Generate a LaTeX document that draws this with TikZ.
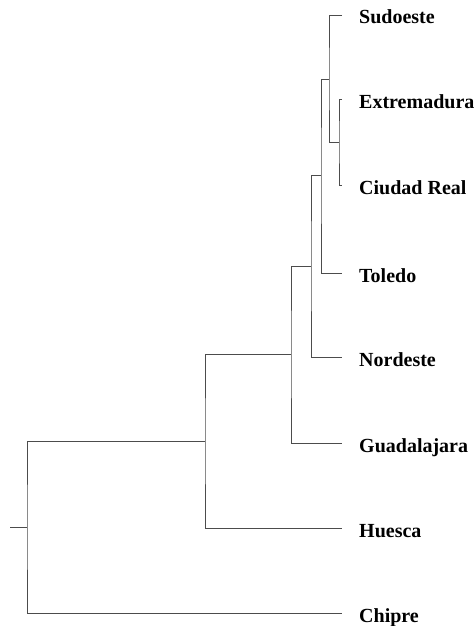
\documentclass[tikz,border=0pt]{standalone}
\usepackage{fontspec}
\setmainfont{Liberation Serif}
\usetikzlibrary{positioning}

\begin{document}
\begin{tikzpicture}[x=1pt, y=-1pt,
  hoja/.style={anchor=base west, inner sep=0pt, font=\bfseries\fontsize{20}{24}\selectfont},
  rama/.style={draw=black!70, line width=0.8pt}]
\useasboundingbox (0,0) rectangle (476,626);
% extremos de las hojas
\coordinate (su) at (342,15);
\coordinate (ex) at (342,99);
\coordinate (cr) at (342,185);
\coordinate (to) at (342,273);
\coordinate (no) at (342,357);
\coordinate (gu) at (342,443);
\coordinate (hu) at (342,528);
\coordinate (ch) at (342,613);
% etiquetas
\node[hoja](lsu) at (359,24){Sudoeste};
\node[hoja](lex) at (359,108){Extremadura};
\node[hoja](lcr) at (359,194){Ciudad Real};
\node[hoja](lto) at (359,282){Toledo};
\node[hoja](lno) at (359,366){Nordeste};
\node[hoja](lgu) at (359,452){Guadalajara};
\node[hoja](lhu) at (359,537){Huesca};
\node[hoja](lch) at (359,622){Chipre};
% uniones
\coordinate (k1) at (339,142);
\coordinate (k2) at (329,79);
\coordinate (k3) at (321,175);
\coordinate (k4) at (311,266);
\coordinate (k5) at (291,354);
\coordinate (k6) at (205,441);
\coordinate (k7) at (27,527);
\coordinate (raiz) at (10,527);
\draw[rama](ex) -| (k1) |- (cr);
\draw[rama](su) -| (k2) |- (k1);
\draw[rama](k2) -| (k3) |- (to);
\draw[rama](k3) -| (k4) |- (no);
\draw[rama](k4) -| (k5) |- (gu);
\draw[rama](k5) -| (k6) |- (hu);
\draw[rama](k6) -| (k7) |- (ch);
\draw[rama](raiz) -- (k7);
\end{tikzpicture}
\end{document}
